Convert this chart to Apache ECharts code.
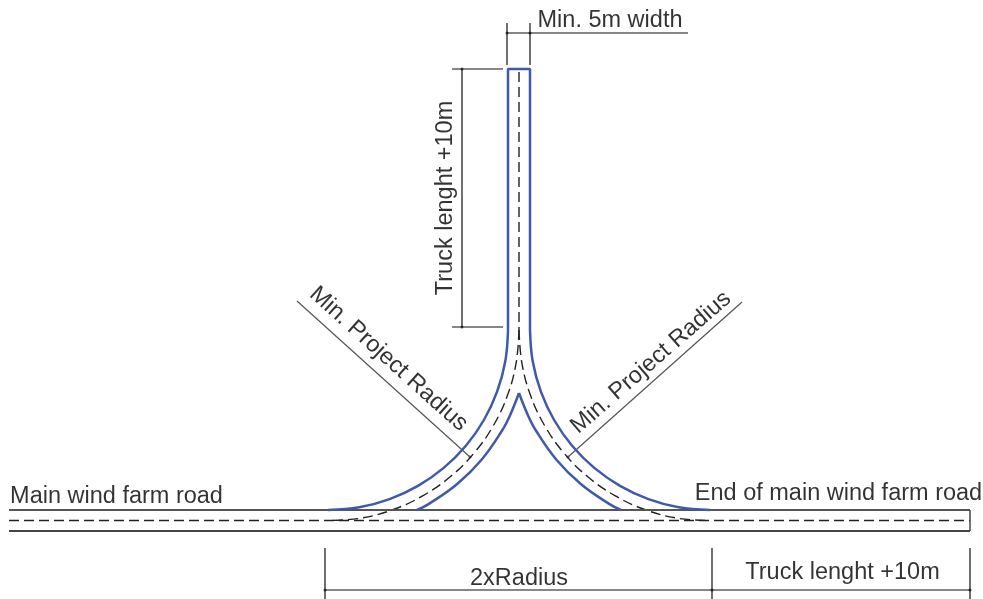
<!DOCTYPE HTML>
<html>
	<head>
		<meta charset="utf-8">
		<title>Turning area layout</title>
		<style type="text/css">
			html, body { margin: 0; padding: 0; width: 100%; height: 100%; background: #fff; }
		</style>
	</head>
	<body>
		<div id="main" style="width: 983px;height:599px;"></div>
	</body>
	<script type="text/javascript" src="https://cdn.jsdelivr.net/npm/echarts@6/dist/echarts.min.js"></script>
	<script type="text/javascript">
		// road outline
		var roadTop = [[9, 510], [970, 510]];
		var roadBottom = [[9, 531], [970, 531]];
		var roadEnd = [[970, 510], [970, 531]];
		var roadCentre = [[9, 520.5], [970, 520.5]];

		// blue edges of the turning branch
		var stemEdge = [[508, 330], [508, 69], [530, 69], [530, 330]];
		var leftOuter = [[508, 330], [505.3, 361.3], [497.1, 391.6], [483.9, 420], [465.9, 445.7], [443.7, 467.9], [418, 485.9], [389.6, 499.1], [359.3, 507.3], [328, 510]];
		var rightOuter = [[530, 330], [532.7, 361.3], [540.9, 391.6], [554.1, 420], [572.1, 445.7], [594.3, 467.9], [620, 485.9], [648.4, 499.1], [678.7, 507.3], [710, 510]];
		var leftInner = [[519, 393], [510.2, 414.9], [502.1, 430.5], [482, 459.2], [457.2, 484], [428.5, 504.1], [417, 510]];
		var rightInner = [[519, 393], [527.8, 414.9], [535.9, 430.5], [556, 459.2], [580.8, 484], [609.5, 504.1], [621, 510]];

		// dashed centre lines
		var stemCentre = [[519, 72], [519, 330]];
		var leftCentre = [[519, 330], [516.1, 363.2], [507.5, 395.3], [493.4, 425.5], [474.3, 452.8], [450.8, 476.3], [423.5, 495.4], [393.3, 509.5], [361.2, 518.1], [328, 520.5]];
		var rightCentre = [[519, 330], [521.9, 363.2], [530.5, 395.3], [544.6, 425.5], [563.7, 452.8], [587.2, 476.3], [614.5, 495.4], [644.7, 509.5], [676.8, 518.1], [710, 520.5]];

		// dimension lines
		var dimensionLines = [
			[[507, 23], [507, 65]],
			[[530, 23], [530, 65]],
			[[507, 33], [688, 33]],
			[[452, 69], [503, 69]],
			[[452, 327], [503, 327]],
			[[462, 69], [462, 327]],
			[[325, 548], [325, 599]],
			[[712, 548], [712, 599]],
			[[970, 548], [970, 599]],
			[[325, 590], [970, 590]]
		];
		var leaderLines = [
			[[297, 301], [470, 457]],
			[[742, 302], [568, 457]]
		];
		var dimensionEnds = [[507, 33], [530, 33], [462, 69], [462, 327], [470, 457], [568, 457], [325, 590], [712, 590], [970, 590]];

		// text: x, y, caption, rotation
		var captions = [
			[610, 21, 'Min. 5m width', 0],
			[446, 198, 'Truck lenght +10m', 90],
			[388.5, 359, 'Min. Project Radius', -42],
			[651, 362.5, 'Min. Project Radius', 41],
			[116.5, 497, 'Main wind farm road', 0],
			[838.5, 494, 'End of main wind farm road', 0],
			[519, 579, '2xRadius', 0],
			[842.5, 573, 'Truck lenght +10m', 0]
		];

		function lineSeries(points, color, width, dashed, smooth) {
			return {
				type : 'line',
				data : points,
				smooth : smooth ? 0.4 : false,
				showSymbol : false,
				silent : true,
				lineStyle : {
					color : color,
					width : width,
					type : dashed ? [10, 5] : 'solid',
					cap : 'butt'
				}
			};
		}

		var series = [];
		series.push(lineSeries(roadCentre, '#222222', 1.4, true));
		series.push(lineSeries(stemCentre, '#222222', 1.4, true));
		series.push(lineSeries(leftCentre, '#222222', 1.4, true, true));
		series.push(lineSeries(rightCentre, '#222222', 1.4, true, true));
		series.push(lineSeries(roadTop, '#555555', 2));
		series.push(lineSeries(roadBottom, '#444444', 2));
		series.push(lineSeries(roadEnd, '#444444', 1.5));
		dimensionLines.forEach(function(points) {
			series.push(lineSeries(points, '#111111', 1.2));
		});
		leaderLines.forEach(function(points) {
			series.push(lineSeries(points, '#555555', 1.2));
		});
		series.push(lineSeries(stemEdge, '#3f5aa8', 2.5));
		series.push(lineSeries(leftOuter, '#3f5aa8', 2.5, false, true));
		series.push(lineSeries(rightOuter, '#3f5aa8', 2.5, false, true));
		series.push(lineSeries(leftInner, '#3f5aa8', 2.5, false, true));
		series.push(lineSeries(rightInner, '#3f5aa8', 2.5, false, true));
		series.push({
			type : 'scatter',
			data : dimensionEnds,
			symbolSize : 3,
			silent : true,
			itemStyle : { color : '#222222' }
		});
		series.push({
			type : 'scatter',
			symbolSize : 1,
			silent : true,
			itemStyle : { color : 'rgba(0,0,0,0)' },
			data : captions.map(function(c) {
				return {
					value : [c[0], c[1]],
					label : {
						show : true,
						position : 'inside',
						formatter : c[2],
						rotate : c[3],
						align : 'center',
						verticalAlign : 'middle',
						fontFamily : '"Liberation Sans", Arial, sans-serif',
						fontSize : 23.5,
						color : '#000000',
						textBorderWidth : 0
					}
				};
			})
		});

		var option = {
			animation : false,
			backgroundColor : '#ffffff',
			grid : { left : 0, right : 0, top : 0, bottom : 0 },
			xAxis : { type : 'value', min : 0, max : 983, show : false },
			yAxis : { type : 'value', min : 0, max : 599, inverse : true, show : false },
			series : series
		};

		var myChart = echarts.init(document.getElementById('main'));
		myChart.setOption(option);
	</script>
</html>
